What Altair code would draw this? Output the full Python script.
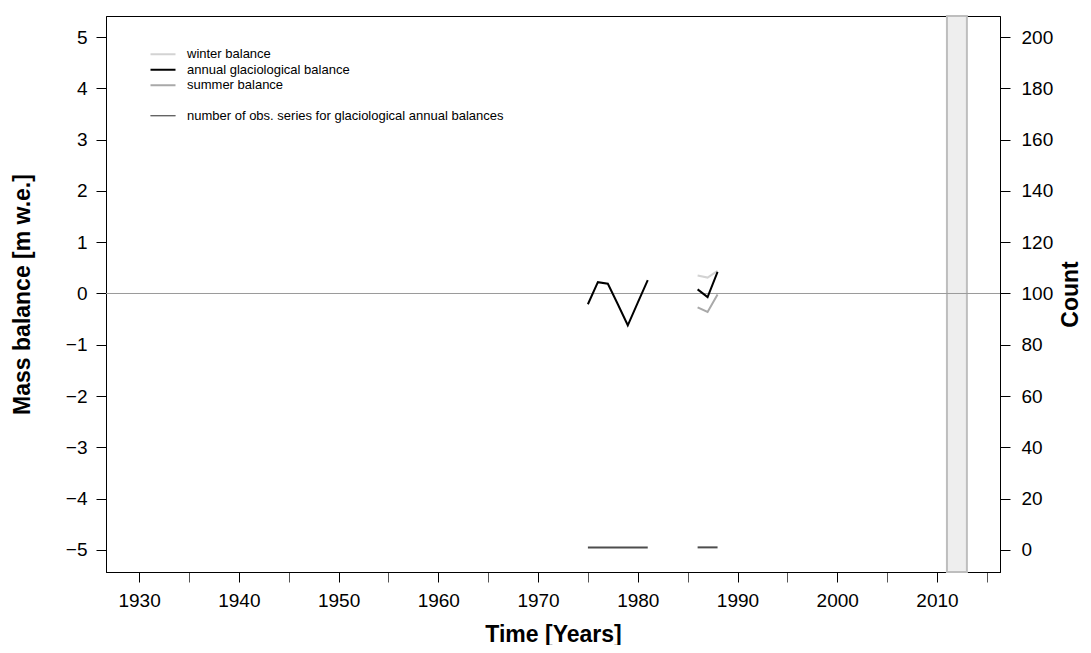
import altair as alt
import pandas as pd

# ---------------- data ----------------
years_annual = [1975, 1976, 1977, 1978, 1979, 1980, 1981, 1986, 1987, 1988]
annual_balance = [-0.21, 0.22, 0.19, -0.21, -0.62, -0.18, 0.26, 0.08, -0.07, 0.42]
years_seasonal = [1986, 1987, 1988]
winter_balance = [0.35, 0.31, 0.44]
summer_balance = [-0.27, -0.36, -0.02]
count_years = [1975, 1976, 1977, 1978, 1979, 1980, 1981, 1986, 1987, 1988]
count_values = [1, 1, 1, 1, 1, 1, 1, 1, 1, 1]
band_start = [2011]
band_end = [2013]
zero_level = [0]

x_ticks = list(range(1930, 2016, 5))
y_ticks = list(range(-5, 6))
count_ticks = list(range(0, 201, 20))

series_names = ["winter balance", "annual glaciological balance", "summer balance"]
series_colors = ["#D3D3D3", "#000000", "#A9A9A9"]
count_label = "number of obs. series for glaciological annual balances"


def segment(y):
    return 1 if y <= 1981 else 2


annual_df = pd.DataFrame({
    "year": years_annual,
    "value": annual_balance,
    "series": series_names[1],
    "seg": [segment(y) for y in years_annual],
})
seasonal_df = pd.concat([
    pd.DataFrame({"year": years_seasonal, "value": winter_balance,
                  "series": series_names[0], "seg": 2}),
    pd.DataFrame({"year": years_seasonal, "value": summer_balance,
                  "series": series_names[2], "seg": 2}),
])
count_df = pd.DataFrame({
    "year": count_years,
    "count": count_values,
    "label": count_label,
    "seg": [segment(y) for y in count_years],
})
band_df = pd.DataFrame({"start": band_start, "end": band_end})
zero_df = pd.DataFrame({"zero": zero_level})

# ---------------- scales / axes ----------------
FONT = "Liberation Sans"
xs = alt.Scale(domain=[1926.68, 2016.32], nice=False, zero=False)
ys = alt.Scale(domain=[-5.43, 5.41], nice=False, zero=False)
cs = alt.Scale(domain=[-8.6, 208.2], nice=False, zero=False)

x_axis = alt.Axis(
    values=x_ticks, format="d",
    labelExpr="datum.value % 10 == 0 ? datum.label : ''",
    title="Time [Years]", tickSize=10,
    tickColor={"condition": {"test": "datum.value % 10 != 0", "value": "#555555"},
               "value": "#000000"},
    labelFontSize=19, labelPadding=9, titleFontSize=23, titlePadding=13,
    labelFlush=False, grid=False,
)
y_axis = alt.Axis(
    values=y_ticks, format="d", title="Mass balance [m w.e.]", tickSize=10,
    labelFontSize=19, labelPadding=9, titleFontSize=23, titlePadding=31,
    grid=False,
)
count_axis = alt.Axis(
    orient="right", values=count_ticks, format="d", title="Count", tickSize=10,
    labelFontSize=19, labelPadding=11, titleFontSize=23, titleAngle=270,
    titleBaseline="top", titleX=59, titleY=278, grid=False,
)

SYMBOL = "M-2.5,0L2.5,0"
color_enc = alt.Color(
    "series:N",
    scale=alt.Scale(domain=series_names, range=series_colors),
    legend=alt.Legend(
        title=None, orient="none", legendX=50.5, legendY=31.75,
        symbolType=SYMBOL, symbolSize=100, symbolStrokeWidth=2,
        labelFontSize=13, labelOffset=17.5, rowPadding=1.5, padding=0,
        labelColor="black", labelLimit=400, labelFont=FONT,
    ),
)

# ---------------- layers ----------------
band = alt.Chart(band_df).mark_rect(
    fill="#EEEEEE", stroke="#BEBEBE", strokeWidth=2
).encode(
    x=alt.X("start:Q", scale=xs, axis=x_axis),
    x2="end:Q",
)

zero = alt.Chart(zero_df).mark_rule(color="#9A9A9A", strokeWidth=1).encode(
    y=alt.Y("zero:Q", scale=ys, axis=y_axis),
)

seasonal = alt.Chart(seasonal_df).mark_line(strokeWidth=2).encode(
    x=alt.X("year:Q", scale=xs, axis=x_axis),
    y=alt.Y("value:Q", scale=ys, axis=y_axis),
    color=color_enc,
    detail="seg:N",
)

annual = alt.Chart(annual_df).mark_line(strokeWidth=2).encode(
    x=alt.X("year:Q", scale=xs, axis=x_axis),
    y=alt.Y("value:Q", scale=ys, axis=y_axis),
    color=color_enc,
    detail="seg:N",
)

count = alt.Chart(count_df).mark_line(color="#4D4D4D", strokeWidth=2).encode(
    x=alt.X("year:Q", scale=xs, axis=x_axis),
    y=alt.Y("count:Q", scale=cs, axis=count_axis),
    detail="seg:N",
)

# legend-only layer for the count series (draws no marks itself)
count_key = alt.Chart(count_df).transform_filter("false").mark_line(
    color="#000000", strokeWidth=1
).encode(
    x=alt.X("year:Q", scale=xs, axis=x_axis),
    y=alt.Y("count:Q", scale=cs, axis=count_axis),
    strokeDash=alt.StrokeDash(
        "label:N",
        scale=alt.Scale(domain=[count_label], range=[[1, 0]]),
        legend=alt.Legend(
            title=None, orient="none", legendX=50.5, legendY=93.25,
            symbolType=SYMBOL, symbolSize=100, symbolStrokeWidth=1,
            symbolStrokeColor="black",
            labelFontSize=13, labelOffset=17.5, padding=0,
            labelColor="black", labelLimit=400, labelFont=FONT,
        ),
    ),
)

inner = alt.layer(zero, seasonal, annual)
count_group = alt.layer(count, count_key)

chart = alt.layer(band, inner, count_group).resolve_scale(y="independent").properties(
    width=894, height=556,
    autosize=alt.AutoSizeParams(type="none"),
    padding={"left": 98, "top": 8, "right": 83, "bottom": 73},
).configure(font=FONT).configure_view(
    stroke="black", strokeWidth=1
).configure_axis(
    domainColor="black", domainWidth=1, tickColor="black", tickWidth=1,
    labelColor="black", titleColor="black", labelFont=FONT, titleFont=FONT,
    titleFontWeight="bold",
)

chart.save("out.html", embed_options={"renderer": "svg", "actions": False})
